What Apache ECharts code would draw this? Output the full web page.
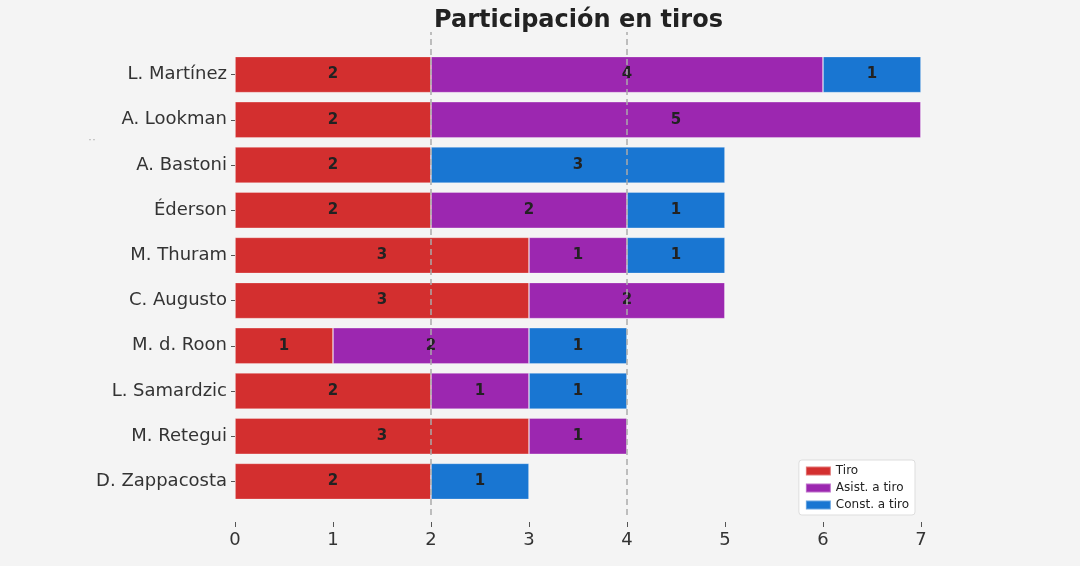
<!DOCTYPE html>
<html>
<head>
<meta charset="utf-8">
<script src="https://cdn.jsdelivr.net/npm/echarts@6/dist/echarts.min.js"></script>
<style>
  html, body { margin: 0; padding: 0; background: #f4f4f4; }
  #chart { width: 1080px; height: 566px; }
</style>
</head>
<body>
<div id="chart"></div>
<script>
// jugadores, de arriba a abajo
var players = ['L. Martínez', 'A. Lookman', 'A. Bastoni', 'Éderson', 'M. Thuram',
    'C. Augusto', 'M. d. Roon', 'L. Samardzic', 'M. Retegui', 'D. Zappacosta'];
var tiro = [2, 2, 2, 2, 3, 3, 1, 2, 3, 2];
var asist = [4, 5, 0, 2, 1, 2, 2, 1, 1, 0];
var constr = [1, 0, 3, 1, 1, 0, 1, 1, 0, 1];
var xTicks = [0, 1, 2, 3, 4, 5, 6, 7];
var refLines = [2, 4];

var myChart = echarts.init(document.getElementById('chart'));

function makeSeries(name, values, color) {
    return {
        name: name,
        type: 'bar',
        stack: 'total',
        barCategoryGap: '20%',
        data: values,
        itemStyle: { color: color, borderColor: 'rgba(255,255,255,0.35)', borderWidth: 0.8 },
        label: {
            show: true,
            position: 'inside',
            color: '#222',
            fontWeight: 'bold',
            fontSize: 15,
            fontFamily: 'DejaVu Sans',
            formatter: function (p) { return p.value > 0 ? p.value : ''; }
        }
    };
}

var option = {
    backgroundColor: '#f4f4f4',
    animation: false,
    textStyle: { fontFamily: 'DejaVu Sans' },
    title: {
        text: 'Participación en tiros',
        left: 434,
        top: 9,
        padding: 0,
        textStyle: { fontSize: 24, fontWeight: 'bold', color: '#222', fontFamily: 'DejaVu Sans' }
    },
    legend: {
        orient: 'vertical',
        right: 165,
        bottom: 51,
        backgroundColor: '#ffffff',
        borderColor: '#dddddd',
        borderWidth: 1,
        borderRadius: 3,
        padding: [5, 6, 4, 6],
        itemGap: 5,
        itemWidth: 25,
        itemHeight: 9,
        icon: 'rect',
        textStyle: { fontSize: 12, color: '#222' },
        data: ['Tiro', 'Asist. a tiro', 'Const. a tiro']
    },
    grid: [
        { left: 235, right: 159, top: 52, bottom: 62 },
        { left: 235, right: 159, top: 32, bottom: 51 }
    ],
    xAxis: [{
        type: 'value',
        min: 0,
        max: 7,
        interval: 1,
        offset: 18,
        axisLine: { show: false },
        axisTick: { show: true, length: 5, lineStyle: { color: '#555' } },
        splitLine: { show: false },
        axisLabel: {
            fontSize: 18, color: '#333', margin: 9,
            formatter: function (v) { return xTicks.indexOf(v) >= 0 ? v : ''; }
        }
    }, {
        gridIndex: 1, type: 'value', min: 0, max: 7, show: false
    }],
    yAxis: [{
        type: 'category',
        inverse: true,
        data: players,
        axisLine: { show: false },
        axisTick: { show: true, length: 4, alignWithLabel: true, lineStyle: { color: '#555' } },
        axisLabel: { fontSize: 18, color: '#333', margin: 8 }
    }, {
        gridIndex: 1, type: 'value', min: 0, max: 1, show: false
    }],
    graphic: [{
        type: 'text', left: 88, top: 134,
        style: { text: '··', fill: '#aaa', fontSize: 12 }
    }],
    series: [
        makeSeries('Tiro', tiro, '#d32f2f'),
        makeSeries('Asist. a tiro', asist, '#9c27b0'),
        makeSeries('Const. a tiro', constr, '#1976d2'),
        {
            name: 'ref',
            type: 'line',
            xAxisIndex: 1,
            yAxisIndex: 1,
            data: [],
            z: 10,
            markLine: {
                silent: true,
                symbol: 'none',
                label: { show: false },
                lineStyle: { type: [6, 4], color: '#aaaaaa', width: 1.5 },
                data: refLines.map(function (v) { return { xAxis: v }; })
            }
        }
    ]
};
myChart.setOption(option);
</script>
</body>
</html>
